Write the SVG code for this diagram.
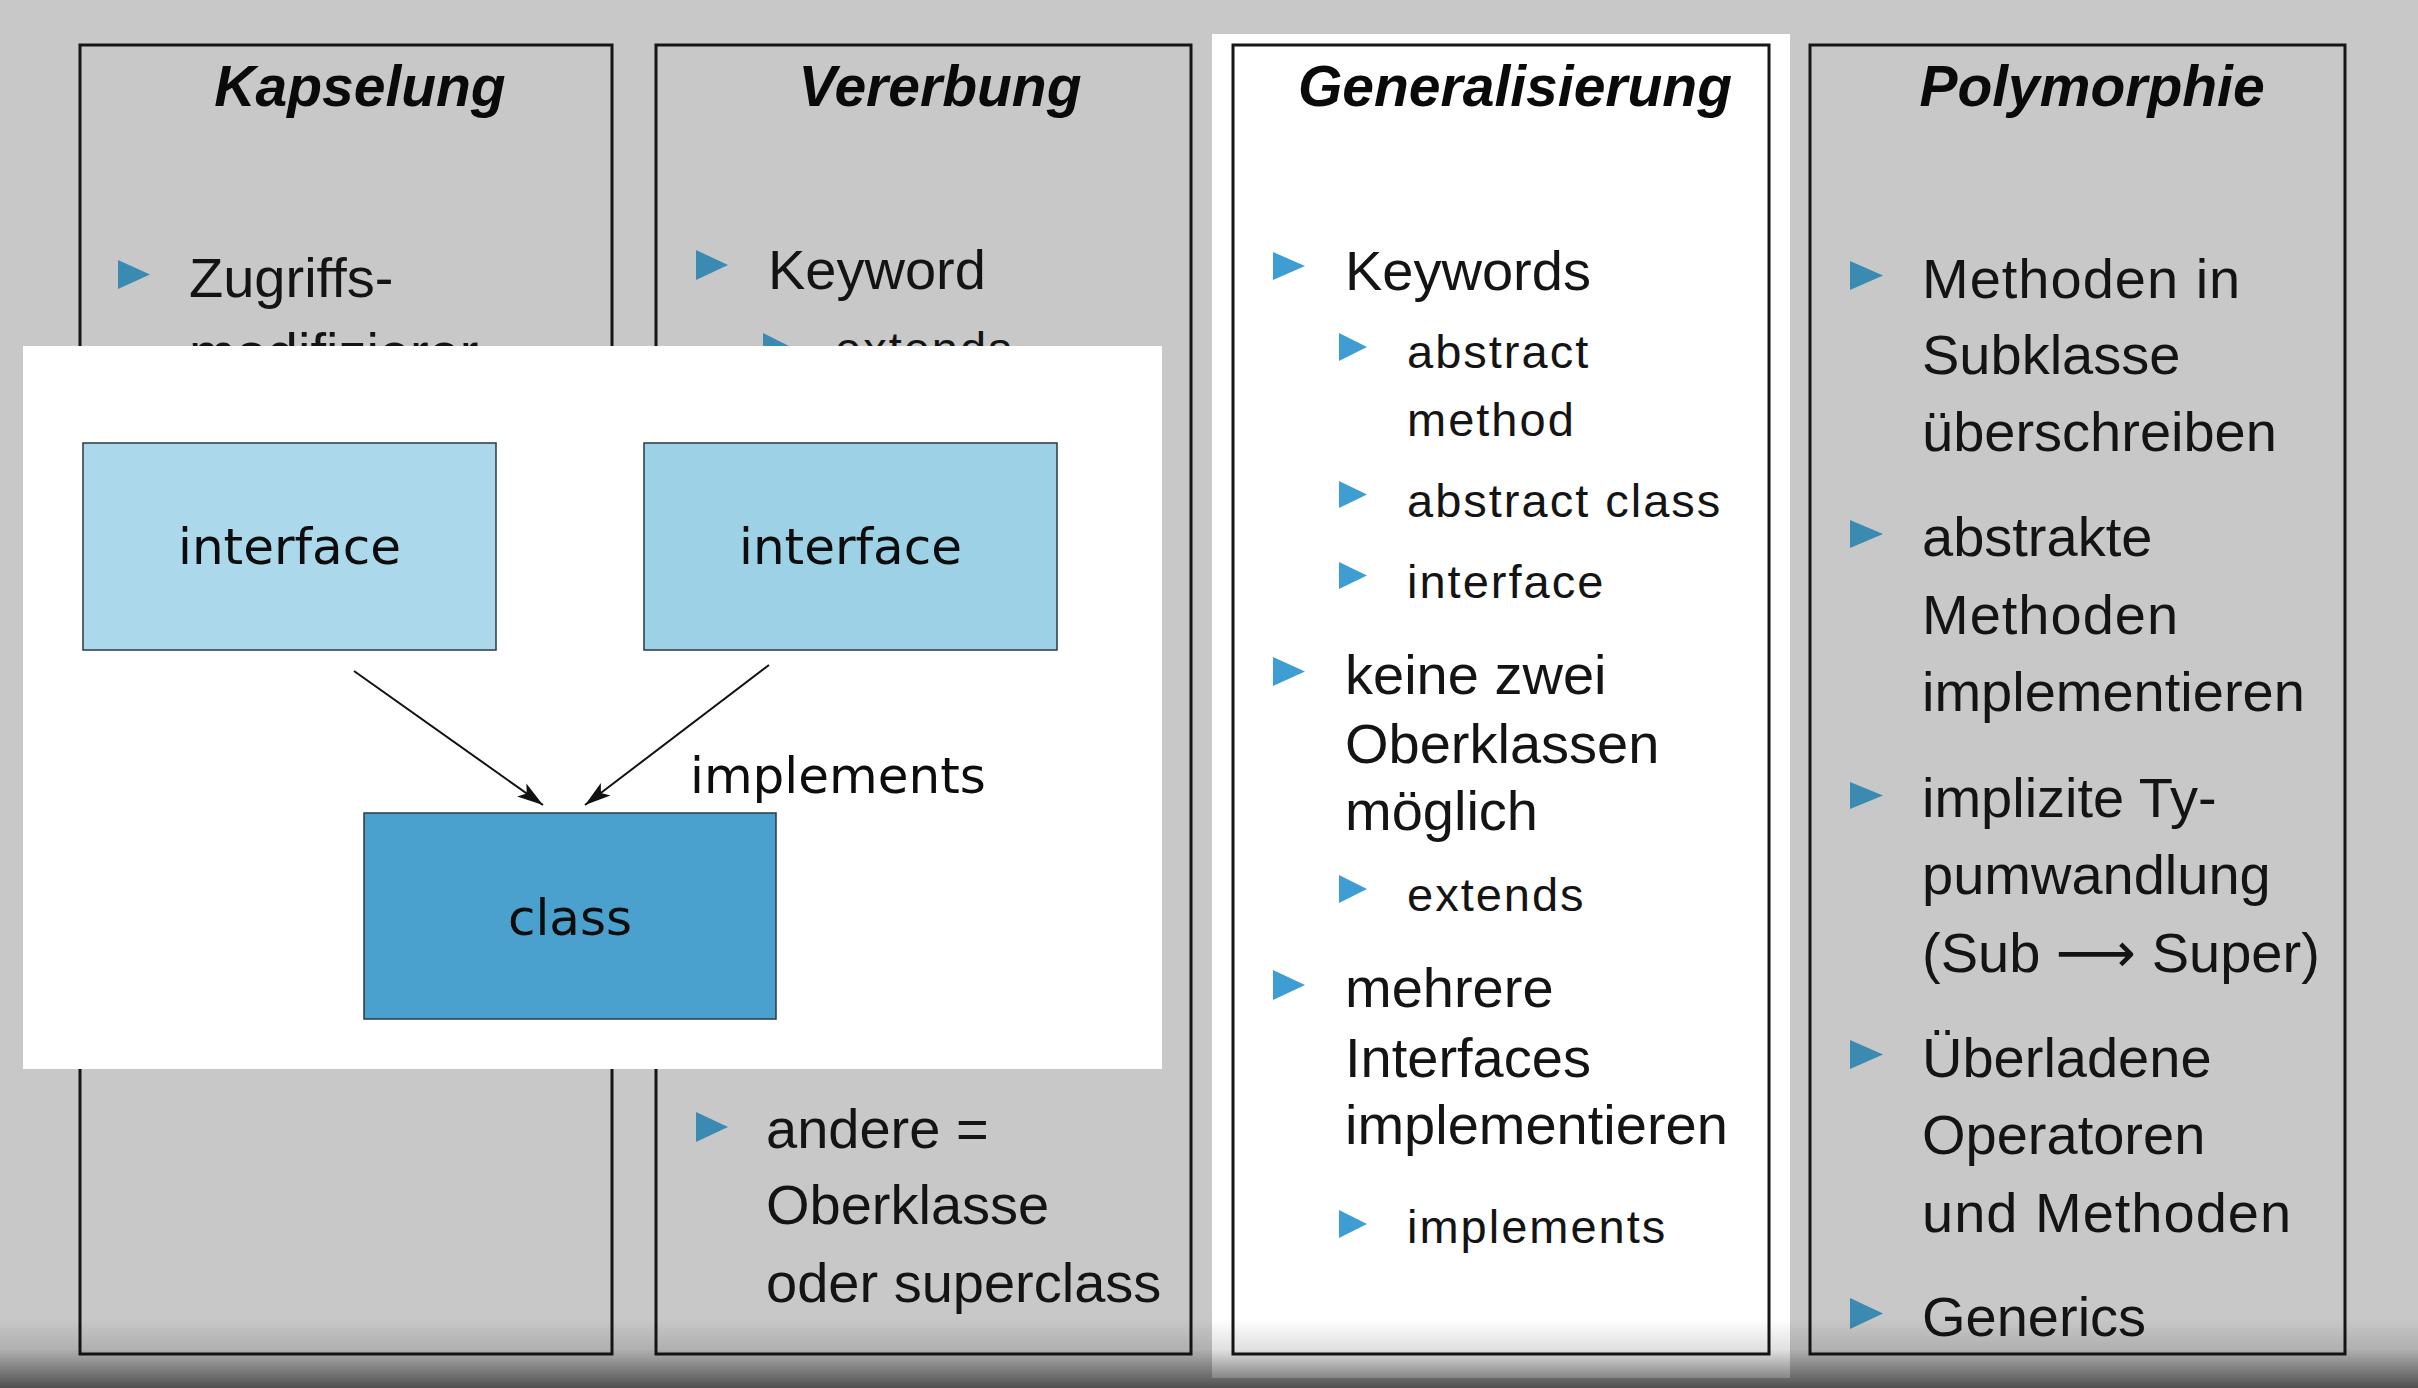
<svg xmlns="http://www.w3.org/2000/svg" width="2418" height="1388" viewBox="0 0 2418 1388">
<defs>
<style>
.col{fill:none;stroke:#161616;stroke-width:3}
.ttl{font-family:"Liberation Sans",Arial,sans-serif;font-weight:bold;font-style:italic;font-size:57px;fill:#0a0a0a;text-anchor:middle}
.t{font-family:"Liberation Sans",Arial,sans-serif;font-size:56px;fill:#141414}
.s{font-family:"Liberation Sans",Arial,sans-serif;font-size:47px;fill:#141414;letter-spacing:2px}
.bg{fill:#3a8ab2}
.bw{fill:#3e9dd2}
.nd{stroke:#2a3a44;stroke-width:1.5}
.dt{font-family:"DejaVu Sans",Verdana,sans-serif;font-size:50px;fill:#0d0d0d}
.con{stroke:#111;stroke-width:2;fill:none}
.arr{font-family:"DejaVu Sans",sans-serif}
</style>
<marker id="ah" markerWidth="28" markerHeight="20" refX="26" refY="10" orient="auto" markerUnits="userSpaceOnUse">
<path d="M0,2 L26,10 L0,18 L6,10 Z" fill="#111"/>
</marker>
<linearGradient id="shade" x1="0" y1="0" x2="0" y2="1">
<stop offset="0" stop-color="#000" stop-opacity="0"/>
<stop offset="0.45" stop-color="#000" stop-opacity="0.12"/>
<stop offset="1" stop-color="#000" stop-opacity="0.6"/>
</linearGradient>
</defs>
<rect x="0" y="0" width="2418" height="1388" fill="#c8c8c8"/>

<g id="kapselung">
<rect class="col" x="80" y="45" width="532" height="1309"/>
<text class="ttl" x="360" y="106">Kapselung</text>
<path class="bg" d="M118,260 L150,274.5 L118,289 Z"/>
<text class="t" x="189" y="297">Zugriffs-</text>
<text class="t" x="189" y="372">modifizierer</text>
</g>

<g id="vererbung">
<rect class="col" x="656" y="45" width="535" height="1309"/>
<text class="ttl" x="940" y="106">Vererbung</text>
<path class="bg" d="M696,250 L728,265 L696,280 Z"/>
<text class="t" x="768" y="289">Keyword</text>
<path class="bg" d="M763,333 L791,347 L763,361 Z"/>
<text class="s" x="835" y="365">extends</text>
<path class="bg" d="M696,1112 L728,1127 L696,1142 Z"/>
<text class="t" x="766" y="1148">andere =</text>
<text class="t" x="766" y="1224">Oberklasse</text>
<text class="t" x="766" y="1302">oder superclass</text>
</g>

<g id="generalisierung">
<rect x="1212" y="34" width="578" height="1344" fill="#ffffff"/>
<rect class="col" x="1233" y="45" width="536" height="1309"/>
<text class="ttl" x="1515" y="106">Generalisierung</text>
<path class="bw" d="M1273,252 L1305,266 L1273,280 Z"/>
<text class="t" x="1345" y="290">Keywords</text>
<path class="bw" d="M1339,333 L1367,347 L1339,361 Z"/>
<text class="s" x="1407" y="368">abstract</text>
<text class="s" x="1407" y="436">method</text>
<path class="bw" d="M1339,481 L1367,494.5 L1339,508 Z"/>
<text class="s" x="1407" y="517">abstract class</text>
<path class="bw" d="M1339,562 L1367,575.5 L1339,589 Z"/>
<text class="s" x="1407" y="598">interface</text>
<path class="bw" d="M1273,657 L1305,671.5 L1273,686 Z"/>
<text class="t" x="1345" y="694">keine zwei</text>
<text class="t" x="1345" y="763">Oberklassen</text>
<text class="t" x="1345" y="830">möglich</text>
<path class="bw" d="M1339,875 L1367,889 L1339,903 Z"/>
<text class="s" x="1407" y="911">extends</text>
<path class="bw" d="M1273,970 L1305,985 L1273,1000 Z"/>
<text class="t" x="1345" y="1007">mehrere</text>
<text class="t" x="1345" y="1077">Interfaces</text>
<text class="t" x="1345" y="1144">implementieren</text>
<path class="bw" d="M1339,1210 L1367,1224 L1339,1238 Z"/>
<text class="s" x="1407" y="1243">implements</text>
</g>

<g id="polymorphie">
<rect class="col" x="1810" y="45" width="535" height="1309"/>
<text class="ttl" x="2092" y="106">Polymorphie</text>
<path class="bg" d="M1850,261 L1883,275.5 L1850,290 Z"/>
<text class="t" x="1922" y="298" letter-spacing="1">Methoden in</text>
<text class="t" x="1922" y="374">Subklasse</text>
<text class="t" x="1922" y="451">überschreiben</text>
<path class="bg" d="M1850,520 L1883,534 L1850,548 Z"/>
<text class="t" x="1922" y="556">abstrakte</text>
<text class="t" x="1922" y="634" letter-spacing="1">Methoden</text>
<text class="t" x="1922" y="711">implementieren</text>
<path class="bg" d="M1850,782 L1883,795.5 L1850,809 Z"/>
<text class="t" x="1922" y="817">implizite Ty-</text>
<text class="t" x="1922" y="894">pumwandlung</text>
<text class="t" x="1922" y="972">(Sub <tspan class="arr">⟶</tspan> Super)</text>
<path class="bg" d="M1850,1040 L1883,1054.5 L1850,1069 Z"/>
<text class="t" x="1922" y="1077">Überladene</text>
<text class="t" x="1922" y="1154">Operatoren</text>
<text class="t" x="1922" y="1232" letter-spacing="1">und Methoden</text>
<path class="bg" d="M1850,1298 L1883,1313.5 L1850,1329 Z"/>
<text class="t" x="1922" y="1336">Generics</text>
</g>

<g id="diagram-panel">
<rect x="23" y="346" width="1139" height="723" fill="#ffffff"/>
</g>

<g id="interface-1">
<rect class="nd" x="83" y="443" width="413" height="207" fill="#acd8eb"/>
<text class="dt" x="289.5" y="564" text-anchor="middle">interface</text>
</g>

<g id="interface-2">
<rect class="nd" x="644" y="443" width="413" height="207" fill="#9dd1e5"/>
<text class="dt" x="850.5" y="564" text-anchor="middle">interface</text>
</g>

<g id="class">
<rect class="nd" x="364" y="813" width="412" height="206" fill="#4aa1cd"/>
<text class="dt" x="570" y="935" text-anchor="middle">class</text>
</g>

<g id="connectors">
<line class="con" x1="354" y1="671" x2="543" y2="805" marker-end="url(#ah)"/>
<line class="con" x1="769" y1="665" x2="585" y2="805" marker-end="url(#ah)"/>
<text class="dt" x="690" y="793">implements</text>
</g>

<rect x="0" y="1318" width="2418" height="70" fill="url(#shade)"/>
</svg>
